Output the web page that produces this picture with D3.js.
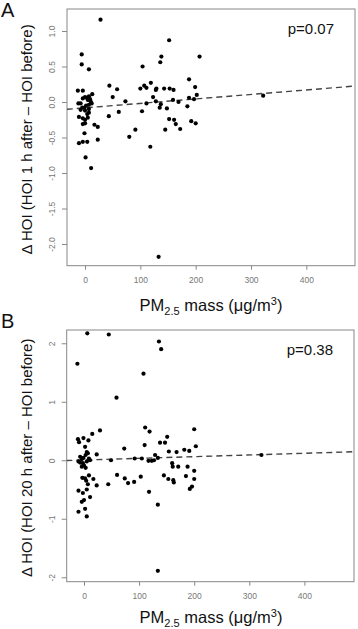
<!DOCTYPE html>
<html><head><meta charset="utf-8">
<script src="https://cdn.jsdelivr.net/npm/d3@7"></script>
<style>body{margin:0;background:#fff}svg{display:block}</style>
</head><body>
<svg id="c" width="358" height="629"></svg>
<script>
// ---- data ----
const xTicks = [0, 100, 200, 300, 400];
const yTicksA = [-2.0, -1.5, -1.0, -0.5, 0.0, 0.5, 1.0];
const yTickLabelsA = ["-2.0", "-1.5", "-1.0", "-0.5", "0.0", "0.5", "1.0"];
const yTicksB = [-2, -1, 0, 1, 2];
const yTickLabelsB = ["-2", "-1", "0", "1", "2"];
const pTextA = "p=0.07";
const pTextB = "p=0.38";
const yTitleA = "Δ HOI (HOI 1 h after – HOI before)";
const yTitleB = "Δ HOI (HOI 20 h after – HOI before)";
const fitA = [[-33, -0.103], [488, 0.225]];
const fitB = [[-32, -0.005], [489, 0.145]];
const pointsA = [
 [28,1.16],[-6,0.53],[-6,0.67],[7,0.46],[152,0.87],[138,0.64],[136,0.56],[207,0.64],[104,0.50],[-13,0.16],[-4,0.16],
 [44,0.23],[58,0.18],[50,0.07],[73,0.01],[61,-0.14],[43,-0.20],[100,0.19],[107,0.23],[111,0.20],[119,0.27],[129,0.19],
 [128,0.17],[143,0.19],[153,0.19],[160,0.17],[123,0.07],[128,0.01],[111,-0.02],[137,-0.03],[135,-0.08],[103,-0.13],
 [148,-0.09],[159,0.03],[169,0.00],[185,-0.06],[188,0.32],[199,0.21],[202,0.10],[188,0.06],[197,0.04],[322,0.09],
 [152,-0.24],[161,-0.25],[164,-0.31],[172,-0.38],[145,-0.39],[192,-0.27],[200,-0.30],[91,-0.39],[80,-0.49],[118,-0.63],
 [133,-2.18],[17,-0.32],[23,-0.35],[-11,-0.58],[-4,-0.56],[4,-0.56],[-1,-0.44],[23,-0.53],[1,-0.78],[11,-0.93],[13,0.11],
 [-12,-0.02],[-8,-0.02],[-4,0.05],[0,0.07],[3,0.06],[5,0.03],[7,0.08],[9,0.04],[10,0.01],[12,-0.02],[7,-0.04],[2,-0.05],
 [-5,-0.08],[-1,-0.08],[-8,-0.11],[0,-0.12],[7,-0.10],[-11,-0.21],[-4,-0.23],[0,-0.25],[5,-0.22],[0,-0.30],[-4,-0.31],
 [7,-0.15],[4,-0.17]
];
const pointsB = [
 [6,2.17],[45,2.15],[-12,1.65],[136,2.03],[140,1.90],[108,1.48],[59,1.07],[111,0.56],[119,0.49],[200,0.53],[29,0.51],
 [15,0.45],[-11,0.36],[-9,0.31],[-1,0.38],[8,0.34],[2,0.23],[110,0.26],[151,0.40],[138,0.30],[147,0.30],[73,0.20],
 [203,0.24],[154,0.15],[168,0.14],[182,0.18],[191,0.16],[23,0.10],[129,0.09],[49,0.00],[92,0.03],[105,0.03],[117,-0.01],
 [123,-0.01],[127,0.00],[134,0.04],[160,-0.05],[161,-0.11],[171,-0.11],[188,-0.11],[322,0.09],
 [-10,-0.52],[-2,-0.56],[-4,-0.71],[0,-0.68],[11,-0.63],[-10,-0.88],[2,-0.83],[5,-0.96],[-3,-0.30],[2,-0.31],[4,-0.35],
 [7,-0.41],[17,-0.32],[23,-0.43],[44,-0.41],[60,-0.25],[74,-0.31],[80,-0.39],[91,-0.37],[103,-0.28],[118,-0.54],
 [134,-0.76],[134,-1.89],[145,-0.26],[153,-0.32],[162,-0.34],[163,-0.38],[185,-0.27],[200,-0.32],[200,-0.18],[196,-0.45],
 [192,-0.49],
 [-7,0.06],[-4,0.02],[-1,0.04],[3,0.09],[7,0.12],[5,0.14],[9,0.03],[11,0.00],[-10,-0.02],[-7,-0.04],[-2,-0.05],[0,-0.09],
 [3,-0.13],[-4,-0.11],[5,-0.02],[9,-0.26],[5,-0.50]
];
// ---- drawing ----
const svg = d3.select("#c");
const FONT = "'Liberation Sans', Arial, sans-serif";

function panel(o) {
  const x = d3.scaleLinear().domain(o.xDomain).range([o.left, o.right]);
  const y = d3.scaleLinear().domain(o.yDomain).range([o.bottom, o.top]);
  const g = svg.append("g");
  g.append("text").attr("x", 1).attr("y", o.letterY).text(o.letter)
    .attr("font-family", FONT).attr("font-size", 20).attr("fill", "#111");
  const cid = "clip" + o.letter;
  svg.append("clipPath").attr("id", cid).append("rect")
    .attr("x", o.left).attr("y", o.top).attr("width", o.right - o.left).attr("height", o.bottom - o.top);
  const xa = g.append("g").attr("transform", `translate(0,${o.bottom})`)
    .call(d3.axisBottom(x).tickValues(xTicks).tickSize(4).tickPadding(7).tickFormat(d3.format("d")));
  xa.select(".domain").remove();
  xa.selectAll("line").attr("stroke", "#888");
  xa.selectAll("text").attr("font-family", FONT).attr("font-size", 8.5).attr("fill", "#777");
  const ya = g.append("g").attr("transform", `translate(${o.left},0)`)
    .call(d3.axisLeft(y).tickValues(o.yTicks).tickSize(5).tickFormat((d, i) => o.yLabels[i]));
  ya.select(".domain").remove();
  ya.selectAll("line").attr("stroke", "#888");
  ya.selectAll("text").attr("font-family", FONT).attr("font-size", 8.5).attr("fill", "#777")
    .attr("text-anchor", "middle").attr("x", null).attr("dy", null)
    .attr("transform", "translate(-12,0) rotate(-90)");
  g.append("rect").attr("x", o.left).attr("y", o.top)
    .attr("width", o.right - o.left).attr("height", o.bottom - o.top)
    .attr("fill", "none").attr("stroke", "#888").attr("stroke-width", 1);
  g.append("line").attr("clip-path", `url(#${cid})`)
    .attr("x1", x(o.fit[0][0])).attr("y1", y(o.fit[0][1]))
    .attr("x2", x(o.fit[1][0])).attr("y2", y(o.fit[1][1]))
    .attr("stroke", "#444").attr("stroke-width", 1.4).attr("stroke-dasharray", "6,4");
  g.append("g").selectAll("circle").data(o.points).join("circle")
    .attr("cx", d => x(d[0])).attr("cy", d => y(d[1])).attr("r", 2.1).attr("fill", "#000");
  g.append("text").attr("x", o.right - 21).attr("y", o.top + 25).attr("text-anchor", "end")
    .attr("font-family", FONT).attr("font-size", 15).attr("fill", "#111").text(o.pText);
  g.append("text").attr("transform", `translate(${o.left - 35},${(o.top + o.bottom) / 2 + 2}) rotate(-90)`)
    .attr("text-anchor", "middle").attr("font-family", FONT).attr("font-size", 15).attr("fill", "#111")
    .text(o.yTitle);
  const xt = g.append("text").attr("x", 211).attr("y", o.bottom + o.xTitleOff).attr("text-anchor", "middle")
    .attr("font-family", FONT).attr("font-size", 16.5).attr("fill", "#111");
  xt.append("tspan").text("PM");
  xt.append("tspan").attr("font-size", 11).attr("dy", 4).text("2.5");
  xt.append("tspan").attr("dy", -4).text(" mass (μg/m");
  xt.append("tspan").attr("font-size", 11).attr("dy", -6).text("3");
  xt.append("tspan").attr("dy", 6).text(")");
}

panel({letter: "A", letterY: 17, left: 67, right: 355, top: 9, bottom: 265.7, xTitleOff: 45,
  xDomain: [-32.6, 488], yDomain: [-2.305, 1.31], yTicks: yTicksA, yLabels: yTickLabelsA,
  points: pointsA, fit: fitA, pText: pTextA, yTitle: yTitleA});
panel({letter: "B", letterY: 328, left: 66.7, right: 354, top: 330, bottom: 581.7, xTitleOff: 41.5,
  xDomain: [-31.4, 490], yDomain: [-2.076, 2.227], yTicks: yTicksB, yLabels: yTickLabelsB,
  points: pointsB, fit: fitB, pText: pTextB, yTitle: yTitleB});
</script>
</body></html>
